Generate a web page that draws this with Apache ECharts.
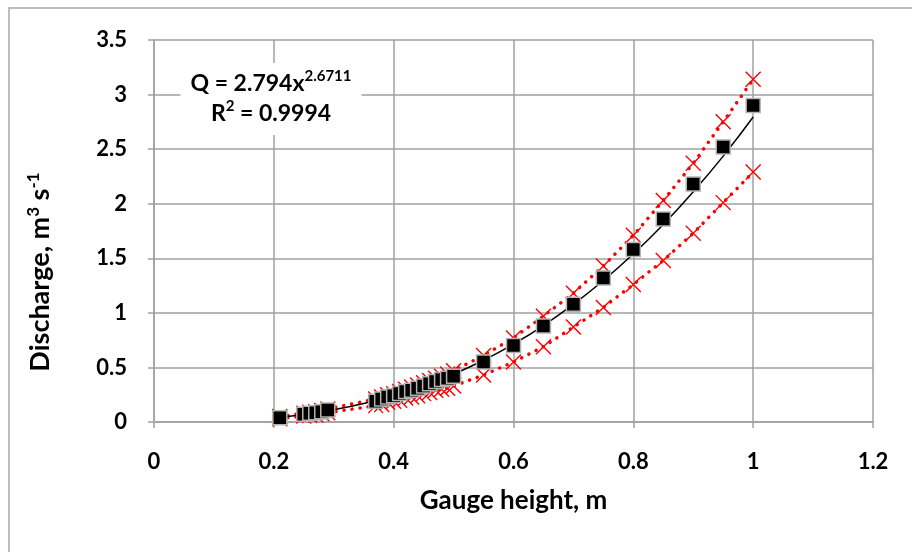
<!DOCTYPE html>
<html>
<head>
<meta charset="utf-8">
<script src="https://cdn.jsdelivr.net/npm/echarts@6/dist/echarts.min.js"></script>
<style>
  html, body { margin: 0; padding: 0; background: #fff; }
  #chart { width: 912px; height: 552px; }
</style>
</head>
<body>
<div id="chart"></div>
<script>
// gauge height (m) of the measured points
var gaugeHeight = [0.21, 0.25, 0.26, 0.27, 0.28, 0.29,
    0.37, 0.38, 0.39, 0.40, 0.41, 0.42, 0.43, 0.44, 0.45, 0.46, 0.47, 0.48, 0.49, 0.50,
    0.55, 0.60, 0.65, 0.70, 0.75, 0.80, 0.85, 0.90, 0.95, 1.00];
// measured discharge
var discharge = [0.04, 0.07, 0.08, 0.085, 0.095, 0.11,
    0.19, 0.21, 0.23, 0.24, 0.26, 0.28, 0.29, 0.31, 0.33, 0.35, 0.37, 0.39, 0.40, 0.42,
    0.55, 0.70, 0.88, 1.08, 1.32, 1.58, 1.86, 2.18, 2.52, 2.90];
// upper / lower band
var upperBand = [0.05, 0.08, 0.09, 0.095, 0.105, 0.12,
    0.21, 0.23, 0.25, 0.26, 0.28, 0.30, 0.32, 0.34, 0.36, 0.38, 0.40, 0.42, 0.44, 0.47,
    0.61, 0.77, 0.97, 1.18, 1.43, 1.71, 2.03, 2.37, 2.75, 3.14];
var lowerBand = [0.03, 0.055, 0.06, 0.065, 0.075, 0.085,
    0.15, 0.16, 0.18, 0.19, 0.20, 0.22, 0.23, 0.24, 0.26, 0.27, 0.29, 0.30, 0.31, 0.33,
    0.43, 0.55, 0.69, 0.87, 1.05, 1.26, 1.48, 1.73, 2.01, 2.29];
// power trend line
var trendX = [0.21, 0.25, 0.30, 0.35, 0.40, 0.45, 0.50, 0.55, 0.60, 0.65, 0.70, 0.75, 0.80, 0.85, 0.90, 0.95, 1.00];
var trendY = [0.043, 0.069, 0.112, 0.169, 0.242, 0.331, 0.439, 0.566, 0.714, 0.884, 1.078, 1.296, 1.540, 1.810, 2.109, 2.436, 2.794];

var xTicks = { min: 0, max: 1.2, step: 0.2 };
var yTicks = { min: 0, max: 3.5, step: 0.5 };

function pairs(xs, ys) {
    var out = [];
    for (var i = 0; i < xs.length; i++) out.push([xs[i], ys[i]]);
    return out;
}

var FONT = 'Lato';
var gridColor = '#a0a0a0';
var crossPath = 'path://M0,0L10,10M10,0L0,10';

var chart = echarts.init(document.getElementById('chart'));

var option = {
    animation: false,
    backgroundColor: '#fff',
    grid: { left: 154, right: 39, top: 40, bottom: 130 },
    xAxis: {
        type: 'value',
        min: xTicks.min, max: xTicks.max, interval: xTicks.step,
        name: 'Gauge height, m',
        nameLocation: 'middle',
        nameGap: 66,
        nameTextStyle: { fontFamily: FONT, fontWeight: 'bold', fontSize: 26, color: '#000' },
        axisLine: { show: true, onZero: false, lineStyle: { color: gridColor, width: 1.5 } },
        axisTick: { show: true, length: 6, lineStyle: { color: gridColor, width: 1.5 } },
        axisLabel: { margin: 29, fontFamily: FONT, fontWeight: 'bold', fontSize: 22, color: '#000' },
        splitLine: { show: true, lineStyle: { color: gridColor, width: 1.5 } }
    },
    yAxis: {
        type: 'value',
        min: yTicks.min, max: yTicks.max, interval: yTicks.step,
        axisLine: { show: true, onZero: false, lineStyle: { color: gridColor, width: 1.5 } },
        axisTick: { show: true, length: 6, lineStyle: { color: gridColor, width: 1.5 } },
        axisLabel: { margin: 27, fontFamily: FONT, fontWeight: 'bold', fontSize: 22, color: '#000' },
        splitLine: { show: true, lineStyle: { color: gridColor, width: 1.5 } }
    },
    graphic: [
        {
            type: 'rect', silent: true, z: -1,
            shape: { x: 9, y: 8, width: 920, height: 560 },
            style: { fill: 'none', stroke: '#a8a8a8', lineWidth: 1.5 }
        },
        {
            type: 'text', z: 100,
            x: 40, y: 272, rotation: Math.PI / 2,
            style: {
                text: 'Discharge, m{sup|3} s{sup|-1}',
                align: 'center', verticalAlign: 'middle',
                fontFamily: FONT, fontWeight: 'bold', fontSize: 27, fill: '#000',
                rich: {
                    sup: { fontFamily: FONT, fontWeight: 'bold', fontSize: 17, verticalAlign: 'top', lineHeight: 30 }
                }
            }
        },
        {
            type: 'text', z: 100,
            x: 271, y: 99,
            style: {
                text: 'Q = 2.794x{sup|2.6711}\nR{sup|2} = 0.9994',
                align: 'center', verticalAlign: 'middle',
                fontFamily: FONT, fontWeight: 'bold', fontSize: 23, fill: '#000',
                lineHeight: 30,
                backgroundColor: '#fff',
                padding: [6, 10, 6, 10],
                rich: {
                    sup: { fontFamily: FONT, fontWeight: 'bold', fontSize: 15, verticalAlign: 'top', lineHeight: 30 }
                }
            }
        }
    ],
    series: [
        {
            name: 'upper',
            type: 'line',
            data: pairs(gaugeHeight, upperBand),
            symbol: crossPath,
            symbolSize: 15,
            itemStyle: { color: '#ff0000', borderColor: '#ff0000', borderWidth: 1.4 },
            lineStyle: { color: '#ff0000', width: 3.5, type: [0.1, 8], cap: 'round' },
            z: 2
        },
        {
            name: 'lower',
            type: 'line',
            data: pairs(gaugeHeight, lowerBand),
            symbol: crossPath,
            symbolSize: 15,
            itemStyle: { color: '#ff0000', borderColor: '#ff0000', borderWidth: 1.4 },
            lineStyle: { color: '#ff0000', width: 3.5, type: [0.1, 8], cap: 'round' },
            z: 2
        },
        {
            name: 'trend',
            type: 'line',
            data: pairs(trendX, trendY),
            smooth: true,
            showSymbol: false,
            lineStyle: { color: '#000', width: 1.5 },
            z: 3
        },
        {
            name: 'observed',
            type: 'scatter',
            data: pairs(gaugeHeight, discharge),
            symbol: 'rect',
            symbolSize: 14,
            itemStyle: { color: '#000', borderColor: '#b4b4b4', borderWidth: 1.5, opacity: 1 },
            z: 4
        }
    ]
};

chart.setOption(option);
window.addEventListener('resize', chart.resize);
</script>
</body>
</html>
